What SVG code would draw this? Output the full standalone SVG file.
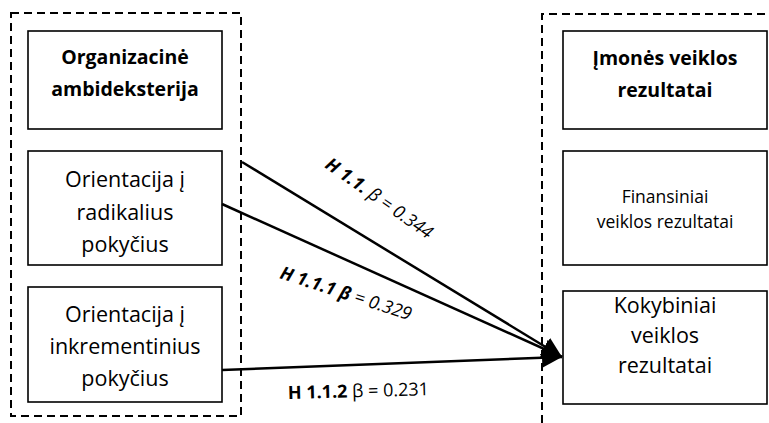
<svg xmlns="http://www.w3.org/2000/svg" width="769" height="423" viewBox="0 0 769 423">
<style>
.dash{fill:none;stroke:#000;stroke-width:2;stroke-dasharray:8 5}
.box{fill:#fff;stroke:#000;stroke-width:1.6}
.t{font-family:"Open Sans","Liberation Sans",sans-serif;font-size:21.5px;fill:#000;text-anchor:middle}
.b{font-weight:bold;font-size:19.5px}
.s{font-size:17.5px}
.lbl{font-family:"Open Sans","Liberation Sans",sans-serif;font-size:18px;fill:#000}
.con{stroke:#000;stroke-width:2.5;fill:none}
</style>
<defs>
<marker id="ah2" viewBox="0 0 20 20" refX="20" refY="10" markerWidth="20" markerHeight="20" markerUnits="userSpaceOnUse" orient="auto">
<path d="M0,0 L20,10 L0,20 z" fill="#000"/>
</marker>
</defs>
<g id="group-left"><rect class="dash" x="11" y="13" width="230" height="403"/></g>
<g id="group-right"><path class="dash" d="M542,423 V14 H775"/></g>
<g id="n-org"><rect class="box" x="28" y="31" width="194" height="98"/>
<text class="t b" x="125" y="64">Organizacinė</text><text class="t b" x="125" y="96">ambideksterija</text></g>
<g id="n-rad"><rect class="box" x="28" y="151" width="194" height="114"/>
<text class="t" x="125" y="187">Orientacija į</text><text class="t" x="125" y="220">radikalius</text><text class="t" x="125" y="252">pokyčius</text></g>
<g id="n-ink"><rect class="box" x="28" y="287" width="194" height="115"/>
<text class="t" x="125" y="322">Orientacija į</text><text class="t" x="125" y="354">inkrementinius</text><text class="t" x="125" y="386">pokyčius</text></g>
<g id="n-imon"><rect class="box" x="563" y="31" width="204" height="98"/>
<text class="t b" x="665" y="65">Įmonės veiklos</text><text class="t b" x="665" y="97">rezultatai</text></g>
<g id="n-fin"><rect class="box" x="563" y="151" width="204" height="114"/>
<text class="t s" x="665" y="203">Finansiniai</text><text class="t s" x="665" y="228">veiklos rezultatai</text></g>
<g id="n-kok"><rect class="box" x="563" y="291" width="204" height="113"/>
<text class="t" x="665" y="313">Kokybiniai</text><text class="t" x="665" y="343">veiklos</text><text class="t" x="665" y="373">rezultatai</text></g>
<g id="connectors">
<line class="con" x1="242" y1="162" x2="562" y2="357" marker-end="url(#ah2)"/>
<line class="con" x1="222" y1="204" x2="562" y2="357" marker-end="url(#ah2)"/>
<line class="con" x1="222" y1="370" x2="562" y2="357" marker-end="url(#ah2)"/>
<text class="lbl" transform="translate(324,167) rotate(35)"><tspan font-weight="bold" font-style="italic">H 1.1.</tspan><tspan font-style="italic"> β = 0.344</tspan></text>
<text class="lbl" transform="translate(279,278) rotate(18)"><tspan font-weight="bold" font-style="italic">H 1.1.1 β</tspan><tspan font-style="italic"> = 0.329</tspan></text>
<text class="lbl" font-size="20" transform="translate(288,399) rotate(-1.5)"><tspan font-weight="bold">H 1.1.2</tspan> β = 0.231</text>
</g>
</svg>
